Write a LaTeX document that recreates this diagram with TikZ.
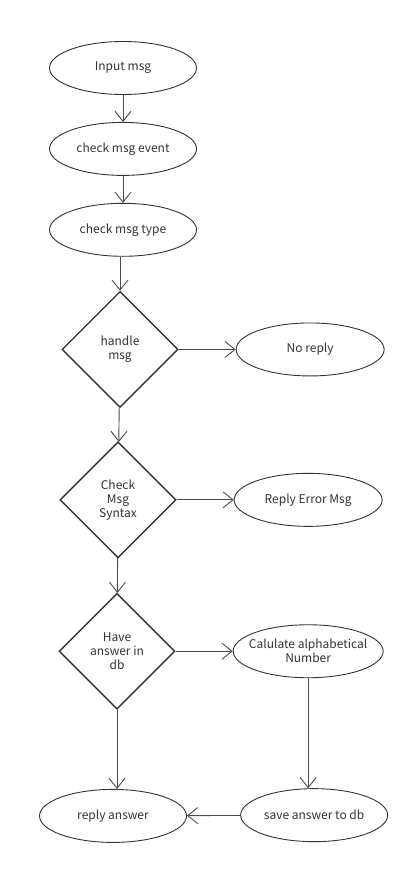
\documentclass[tikz,border=0pt]{standalone}
\usepackage{fontspec}
\setmainfont{Noto Sans CJK SC}
\usetikzlibrary{arrows.meta,positioning,shapes.geometric}

\begin{document}
\begin{tikzpicture}[x=1pt, y=-1pt, >={Straight Barb[length=10pt,width=16pt]},
  node distance=27pt and 57pt,
  stp/.style={draw=black!80, line width=0.9pt, ellipse, minimum width=147pt, minimum height=53pt,
    inner sep=0pt, align=center, text=black!80, font=\fontsize{12}{14}\selectfont},
  dec/.style={draw=black!80, line width=1.4pt, diamond, minimum width=116pt, minimum height=116pt,
    inner sep=0pt, align=center, text=black!80, font=\fontsize{12}{14}\selectfont},
  flow/.style={->, draw=black!70, line width=0.9pt}]
\useasboundingbox (0,0) rectangle (416,869);
% main column
\node[stp] (input) at (123,68) {Input msg};
\node[stp, below=of input] (event) {check msg event};
\node[stp, below=of event] (type) {check msg type};
\node[dec, below=34pt of type, xshift=-3pt] (handle) {handle\\msg};
\node[dec, below=33pt of handle, xshift=-2pt] (syntax) {Check\\Msg\\Syntax};
\node[dec, below=34pt of syntax, xshift=-1pt] (have) {Have\\answer in\\db};
\node[stp, below=79pt of have, xshift=-4pt] (reply) {reply answer};
% right column
\node[stp, right=of handle, minimum width=148pt] (noreply) {No reply};
\node[stp, right=of syntax, minimum width=148pt] (err) {Reply Error Msg};
\node[stp, right=of have, minimum width=150pt, inner xsep=-12pt] (calc) {Calulate alphabetical\\Number};
\node[stp, below=110pt of calc, xshift=6pt] (save) {save answer to db};
% connectors
\draw[flow] (input) -- (event);
\draw[flow] (event) -- (type);
\draw[flow] (type.south -| handle.north) -- (handle.north);
\draw[flow] (handle) -- (syntax);
\draw[flow] (syntax) -- (have);
\draw[flow] (have.south) -- (have.south |- reply.north);
\draw[flow] (handle) -- (noreply);
\draw[flow] (syntax) -- (err);
\draw[flow] (have) -- (calc);
\draw[flow] (calc.south) -- (calc.south |- save.north);
\draw[flow] (save) -- (reply);
\end{tikzpicture}
\end{document}
